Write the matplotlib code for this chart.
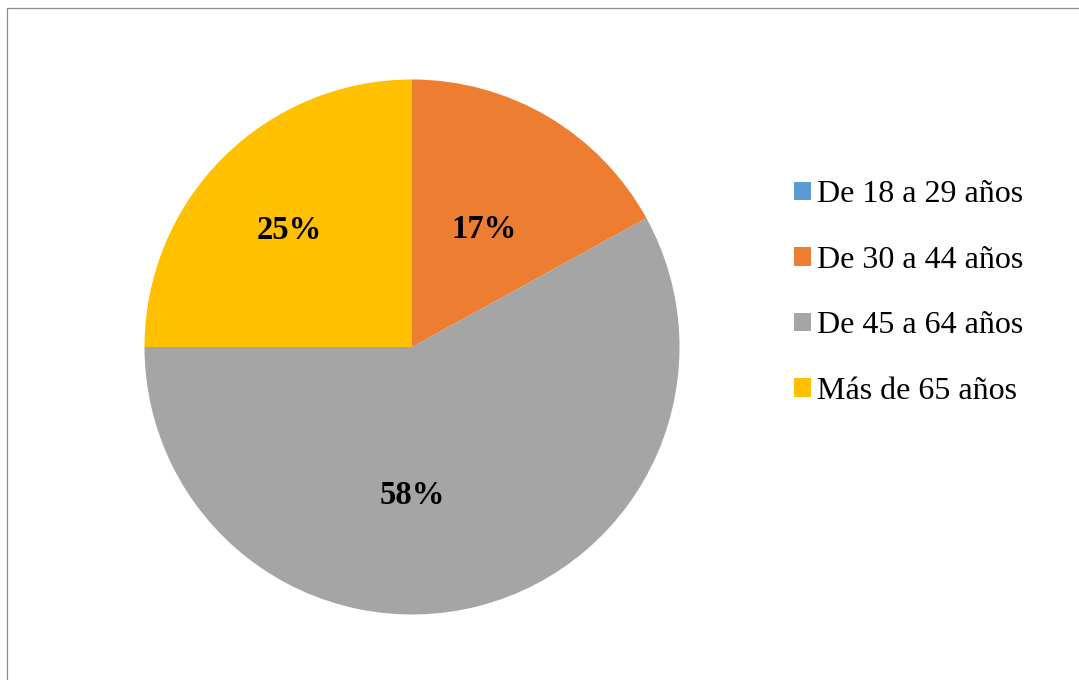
import matplotlib
matplotlib.use("Agg")
import matplotlib.pyplot as plt
from matplotlib.patches import Rectangle

categories = ["De 18 a 29 años", "De 30 a 44 años", "De 45 a 64 años", "Más de 65 años"]
values = [0, 17, 58, 25]
colors = ["#5B9BD5", "#ED7D31", "#A5A5A5", "#FFC000"]

plt.rcParams['font.family'] = ['Liberation Serif', 'DejaVu Serif']

W, H = 1079, 680
fig = plt.figure(figsize=(W / 100, H / 100), dpi=100)

# pie axes: centre (412,347) px, radius 267.5 px
cx, cy, r = 412, 347, 267.5
ax = fig.add_axes([(cx - r) / W, (H - cy - r) / H, 2 * r / W, 2 * r / H])

wedges, texts, autotexts = ax.pie(
    values, colors=colors, startangle=90, counterclock=False,
    autopct=lambda p: f"{p:.0f}%" if p > 0 else "",
    pctdistance=0.55, radius=1.0,
    textprops=dict(fontsize=23.5, fontweight='bold', color='black'),
    wedgeprops=dict(linewidth=0))
ax.set_xlim(-1, 1)
ax.set_ylim(-1, 1)
ax.set_aspect('equal')
ax.axis('off')

# label placement (Excel best-fit style), in axes-radius units
label_pos = [None, (0.27, 0.44), (0.0, -0.555), (-0.46, 0.435)]
for t, pos in zip(autotexts, label_pos):
    if pos is not None:
        t.set_position(pos)
        t.set_ha('center')
        t.set_va('center')

leg = fig.legend(wedges, categories, loc='center left',
                 bbox_to_anchor=(794 / W, 1 - 293 / H),
                 frameon=False, fontsize=23, handlelength=0.52, handleheight=0.52,
                 handletextpad=0.2, labelspacing=1.14, borderpad=0, borderaxespad=0)

# outer border
fig.patches.append(Rectangle((6.5 / W, -0.05), 1.2, 1 - 7.5 / H + 0.05,
                             transform=fig.transFigure, fill=False,
                             edgecolor='#8C8C8C', linewidth=0.9))

fig.savefig("out.png", dpi=100)
